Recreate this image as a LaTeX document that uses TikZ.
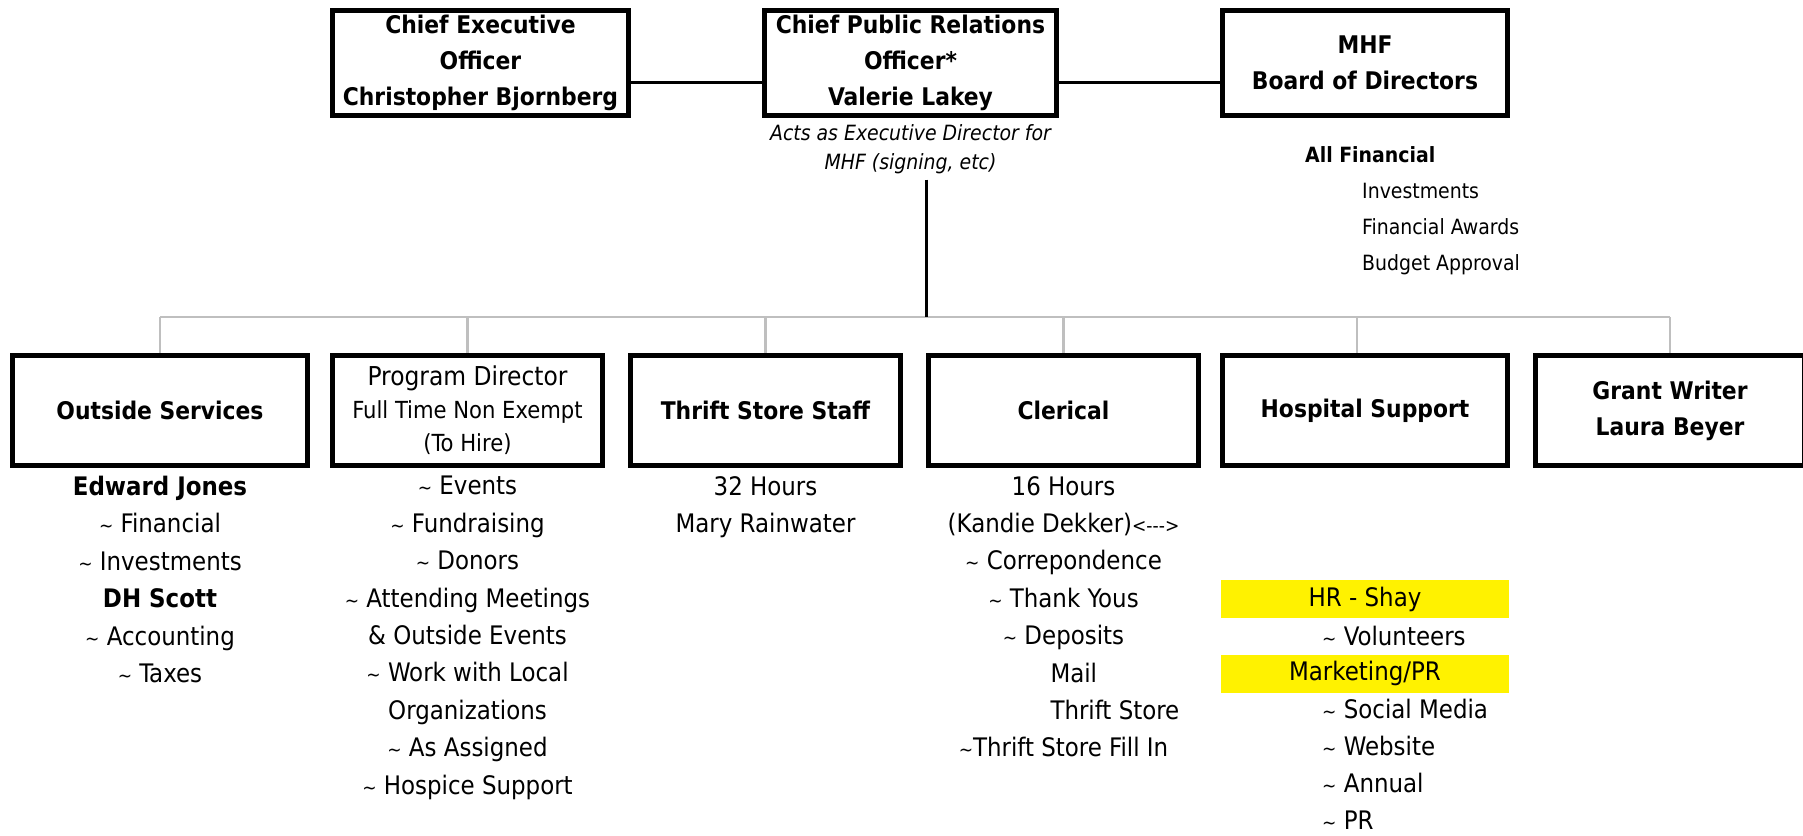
\documentclass[tikz,border=0pt]{standalone}
\usepackage{fontspec}
\setmainfont{DejaVu Sans Condensed}[BoldFont={DejaVu Sans Condensed Bold},ItalicFont={DejaVu Sans Condensed Oblique}]
\usepackage{tikz}
\usetikzlibrary{positioning}
\definecolor{busgray}{RGB}{191,191,191}
\newcommand{\chartfont}{\fontsize{25.5}{37.4}\selectfont}
\newcommand{\tild}{{\fontsize{19}{19}\selectfont\textasciitilde}}
\tikzset{
  head box/.style={draw,line width=5pt,inner sep=0pt,align=center,font=\fontsize{24.3}{36}\selectfont\bfseries,minimum height=105pt},
  unit box/.style={draw,line width=5pt,inner sep=0pt,align=center,font=\fontsize{24.3}{36}\selectfont\bfseries,minimum width=270pt,minimum height=110pt},
  duty list/.style={inner sep=0pt,align=center,font=\chartfont,anchor=north},
  hilite/.style={fill=yellow,inner sep=0pt,minimum width=288pt,minimum height=38pt,font=\chartfont},
  link/.style={line width=3pt},
  bus/.style={draw=busgray,line width=2.5pt}
}

\begin{document}
\begin{tikzpicture}[x=1pt,y=-1pt]
  \clip (0,0) rectangle (1803,835);
  % top row
  \node[head box,minimum width=296pt] (ceo) at (480.5,63) {Chief Executive\\Officer\\Christopher Bjornberg};
  \node[head box,minimum width=292pt] (cpro) at (910.5,63) {Chief Public Relations\\Officer*\\Valerie Lakey};
  \node[head box,minimum width=285pt] (board) at (1365,63) {MHF\\Board of Directors};
  \node[below=6pt of cpro,align=center,inner sep=0pt,font=\fontsize{21}{29}\selectfont\itshape] (note) {Acts as Executive Director for\\MHF (signing, etc)};
  \node[anchor=north west,align=left,inner sep=0pt,font=\fontsize{21}{36}\selectfont] (fin) at (1305,146)
    {\textbf{All Financial}\\\hspace*{57pt}Investments\\\hspace*{57pt}Financial Awards\\\hspace*{57pt}Budget Approval};
  \draw[link] ([yshift=-19pt]ceo.east) -- ([yshift=-19pt]cpro.west);
  \draw[link] ([yshift=-19pt]cpro.east) -- ([yshift=-19pt]board.west);

  % second row
  \node[unit box,minimum width=295pt] (outside) at (160,410.5) {Outside Services};
  \node[unit box,font=\fontsize{23.5}{33}\selectfont] (prog) at (467.5,410.5)
    {{\fontsize{26}{30}\selectfont Program Director}\\Full Time Non Exempt\\(To Hire)};
  \node[unit box] (thrift) at (765.5,410.5) {Thrift Store Staff};
  \node[unit box] (clerical) at (1063.5,410.5) {Clerical};
  \node[unit box,minimum width=285pt] (hosp) at (1365,410.5) {Hospital Support};
  \node[unit box,minimum width=269pt] (grant) at (1670,410.5) {Grant Writer\\Laura Beyer};

  \coordinate (hub) at (926,317);
  \draw[bus] (outside.north |- hub) -- (grant.north |- hub);
  \foreach \u in {outside,prog,thrift,clerical,grant}
    \draw[bus] (\u.north |- hub) -- (\u.north);
  \draw[bus] ([xshift=-8pt]hosp.north |- hub) -- ([xshift=-8pt]hosp.north);
  \draw[link,shorten <=6pt] (hub |- note.south) -- (hub);

  % duties
  \node[duty list] (outlist) at ([yshift=-8pt]outside.south)
    {\textbf{Edward Jones}\\\tild{} Financial\\\tild{} Investments\\\textbf{DH Scott}\\\tild{} Accounting\\\tild{} Taxes};
  \node[duty list] (proglist) at ([yshift=-8pt]prog.south)
    {\tild{} Events\\\tild{} Fundraising\\\tild{} Donors\\\tild{} Attending Meetings\\\& Outside Events\\\tild{} Work with Local\\Organizations\\\tild{} As Assigned\\\tild{} Hospice Support};
  \node[duty list] (thriftlist) at ([yshift=-8pt]thrift.south) {32 Hours\\Mary Rainwater};
  \node[duty list] (clerlist) at ([yshift=-8pt]clerical.south)
    {16 Hours\\(Kandie Dekker){\fontsize{19}{20}\selectfont<-{}-{}->}\\\tild{} Correpondence\\\tild{} Thank Yous\\\tild{} Deposits\\\makebox[26pt][l]{Mail}\\\makebox[26pt][l]{Thrift Store}\\\tild{}Thrift Store Fill In};
  \node[hilite,below=112pt of hosp] (hr) {HR - Shay};
  \node[duty list,anchor=north west] (vol) at (1322,626) {\tild{} Volunteers};
  \node[hilite,below=36pt of hr] (mkt) {Marketing/PR};
  \node[duty list,anchor=north west,align=left,font=\fontsize{25.5}{37}\selectfont] (mktlist) at (1322,699)
    {\tild{} Social Media\\\tild{} Website\\\tild{} Annual\\\tild{} PR};
\end{tikzpicture}
\end{document}
